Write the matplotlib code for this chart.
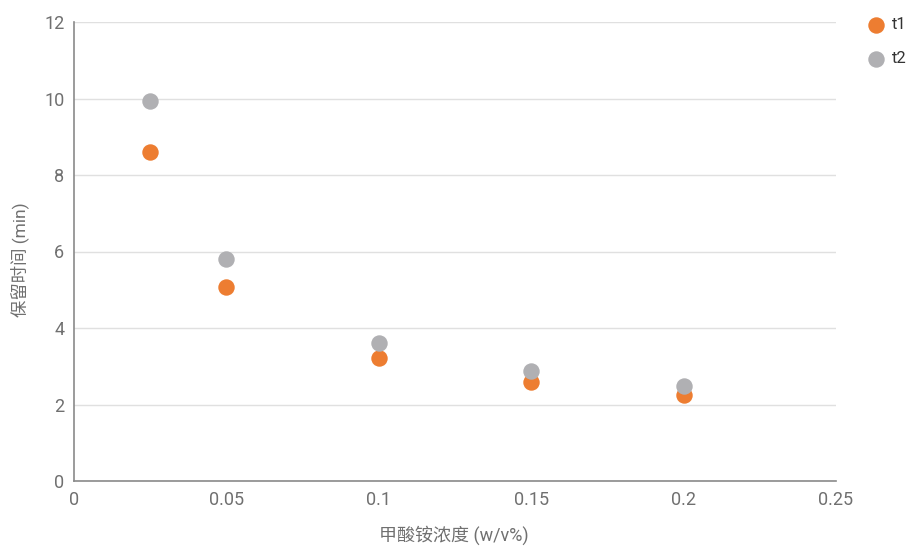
import matplotlib
matplotlib.use("Agg")
import matplotlib.pyplot as plt

plt.rcParams["font.family"] = ["Roboto", "Noto Sans CJK SC", "DejaVu Sans"]

# ammonium formate concentration (w/v%) vs retention time (min)
conc = [0.025, 0.05, 0.1, 0.15, 0.2]
t1 = [8.6, 5.07, 3.22, 2.6, 2.26]
t2 = [9.94, 5.8, 3.61, 2.88, 2.48]

TEXT = "#707070"
W, H = 912, 546
fig = plt.figure(figsize=(W / 100, H / 100), dpi=100)
ax = fig.add_axes([74 / W, 65 / H, 762 / W, 459 / H])

ax.scatter(conc, t1, s=140, color="#ED7D31", label="t1", zorder=3, linewidths=0)
ax.scatter(conc, t2, s=140, color="#B0B0B3", label="t2", zorder=3, linewidths=0)

ax.set_xlim(0, 0.25)
ax.set_ylim(0, 12)
ax.set_xticks([0, 0.05, 0.1, 0.15, 0.2, 0.25])
ax.set_xticklabels(["0", "0.05", "0.1", "0.15", "0.2", "0.25"])
ax.set_yticks(range(0, 13, 2))
ax.grid(axis="y", color="#E0E0E0", linewidth=1)
ax.set_axisbelow(True)
for s in ("top", "right"):
    ax.spines[s].set_visible(False)
for s in ("left", "bottom"):
    ax.spines[s].set_color("#8A8A8A")
    ax.spines[s].set_linewidth(1.2)
ax.tick_params(length=0, labelsize=13, colors=TEXT, pad=7)

fig.text(454 / W, 1 - 535 / H, "甲酸铵浓度 (w/v%)", fontsize=13, color=TEXT,
         ha="center", va="center")
fig.text(20 / W, 1 - 260 / H, "保留时间 (min)", fontsize=12.5, color=TEXT,
         ha="center", va="center", rotation=90)

fig.legend(loc="upper left", bbox_to_anchor=(868 / W, 1 - 17 / H),
           frameon=False, fontsize=12, labelcolor="#333333",
           handlelength=1.0, handletextpad=0.45, borderpad=0,
           borderaxespad=0, labelspacing=1.14)

fig.savefig("out.png", dpi=100)
